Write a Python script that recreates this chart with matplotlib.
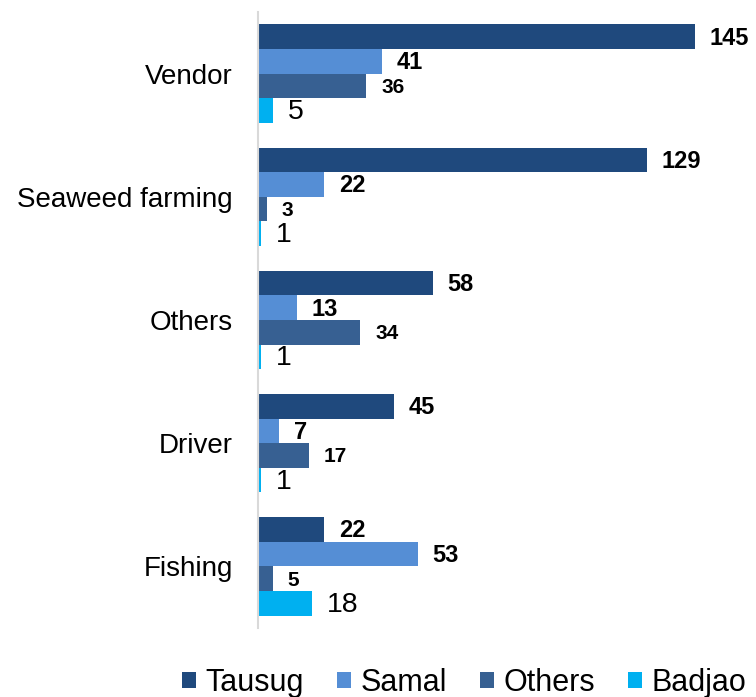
import matplotlib.pyplot as plt
import numpy as np

plt.rcParams['font.family'] = ['Liberation Sans', 'DejaVu Sans']

categories = ['Vendor', 'Seaweed farming', 'Others', 'Driver', 'Fishing']
series = ['Tausug', 'Samal', 'Others', 'Badjao']
tausug = [145, 129, 58, 45, 22]
samal = [41, 22, 13, 7, 53]
others = [36, 3, 34, 17, 5]
badjao = [5, 1, 1, 1, 18]

colors = ['#1F497D', '#558ED5', '#376092', '#00B0F0']
label_sizes = [17, 17, 15, 20.5]
label_weights = ['bold', 'bold', 'bold', 'normal']

fig = plt.figure(figsize=(7.56, 6.97), dpi=100)
ax = fig.add_axes([258 / 756, 1 - 628 / 697, (695 - 258) / 756, 616 / 697])

y = np.arange(len(categories))
h = 0.2
values = [tausug, samal, others, badjao]
for i, (name, vals) in enumerate(zip(series, values)):
    pos = y - 0.4 + h * (i + 0.5)
    bars = ax.barh(pos, vals, height=h, color=colors[i], label=name)
    for b, v in zip(bars, vals):
        ax.annotate(str(v), (v, b.get_y() + b.get_height() / 2),
                    xytext=(10.5, -1), textcoords='offset points',
                    ha='left', va='center', fontsize=label_sizes[i],
                    fontweight=label_weights[i], color='black',
                    annotation_clip=False)

ax.set_xlim(0, 145)
ax.set_ylim(len(categories) - 0.5, -0.5)
ax.set_yticks(y)
ax.set_yticklabels(categories, fontsize=20)
ax.tick_params(axis='y', length=0, pad=18)
ax.set_xticks([])
for s in ['top', 'right', 'bottom']:
    ax.spines[s].set_visible(False)
ax.spines['left'].set_color('#d9d9d9')
ax.spines['left'].set_linewidth(1.5)

fig.legend(loc='center', bbox_to_anchor=(0.614, 0.02), ncol=4,
           frameon=False, fontsize=22, handlelength=0.45, handleheight=0.45,
           handletextpad=0.3, columnspacing=1.1, borderpad=0, borderaxespad=0)

fig.savefig('out.png', dpi=100)
